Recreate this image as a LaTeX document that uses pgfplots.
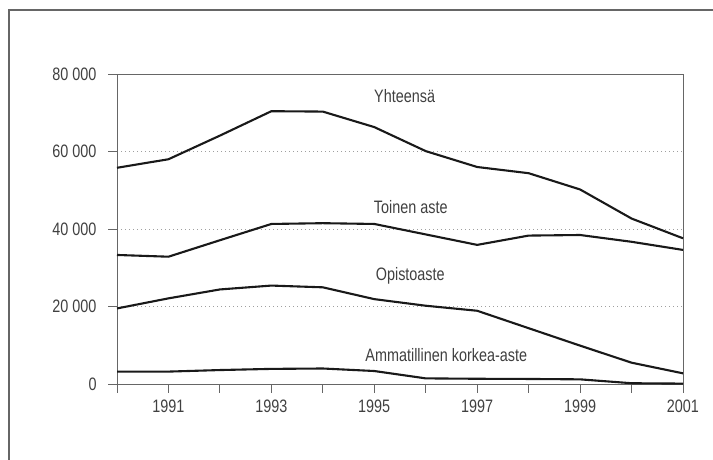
\documentclass[border=0pt]{standalone}
\usepackage{fontspec}
\setmainfont[FakeStretch=0.8]{Liberation Sans}
\usepackage{pgfplots}
\pgfplotsset{compat=1.18}
\definecolor{txt}{gray}{0.25}
\definecolor{axl}{gray}{0.4}
\definecolor{ln}{gray}{0.1}
\begin{document}
\begin{tikzpicture}
\path[use as bounding box] (0,0) rectangle (713bp,460bp);
\draw[axl, line width=1.2bp] (9bp,0) -- (9bp,450bp) -- (713bp,450bp);
\begin{axis}[
  at={(117bp,76bp)}, anchor=south west,
  scale only axis, width=566bp, height=310bp,
  xmin=1990, xmax=2001, ymin=0, ymax=80000,
  scaled y ticks=false, scaled x ticks=false,
  xtick={1990,...,2001},
  xticklabels={,1991,,1993,,1995,,1997,,1999,,2001},
  ytick={0,20000,40000,60000,80000},
  yticklabels={0,20 000,40 000,60 000,80 000},
  tick pos=left, tick align=outside, major tick length=9bp,
  tick style={axl, line width=0.8bp},
  axis line style={axl, line width=0.9bp},
  ymajorgrids,
  grid style={gray!75, line width=0.8bp, dash pattern=on 1bp off 3bp},
  ticklabel style={font=\fontsize{18bp}{21bp}\selectfont, text=txt},
  yticklabel style={xshift=-8bp},
  xticklabel style={yshift=-3bp},
  clip=false,
]
\addplot[ln, line width=2.1bp, line join=round] coordinates {
(1990,55800) (1991,58000) (1992,64100) (1993,70400) (1994,70300) (1995,66300)
(1996,60100) (1997,56000) (1998,54400) (1999,50200) (2000,42700) (2001,37600)};
\addplot[ln, line width=2.1bp, line join=round] coordinates {
(1990,33300) (1991,32850) (1992,37100) (1993,41300) (1994,41500) (1995,41300)
(1996,38600) (1997,35900) (1998,38300) (1999,38450) (2000,36700) (2001,34600)};
\addplot[ln, line width=2.1bp, line join=round] coordinates {
(1990,19500) (1991,22100) (1992,24400) (1993,25400) (1994,24950) (1995,21900)
(1996,20200) (1997,18900) (1998,14400) (1999,9900) (2000,5500) (2001,2750)};
\addplot[ln, line width=2.1bp, line join=round] coordinates {
(1990,3200) (1991,3200) (1992,3600) (1993,3900) (1994,4000) (1995,3350)
(1996,1450) (1997,1350) (1998,1300) (1999,1200) (2000,200) (2001,100)};
\begin{scope}[every node/.style={font=\fontsize{18bp}{21bp}\selectfont, text=txt, inner sep=0pt}]
\node at (axis cs:1995.59,74190) {Yhteensä};
\node at (axis cs:1995.71,45550) {Toinen aste};
\node at (axis cs:1995.70,28000) {Opistoaste};
\node at (axis cs:1996.40,7480) {Ammatillinen korkea-aste};
\end{scope}
\end{axis}
\end{tikzpicture}
\end{document}
